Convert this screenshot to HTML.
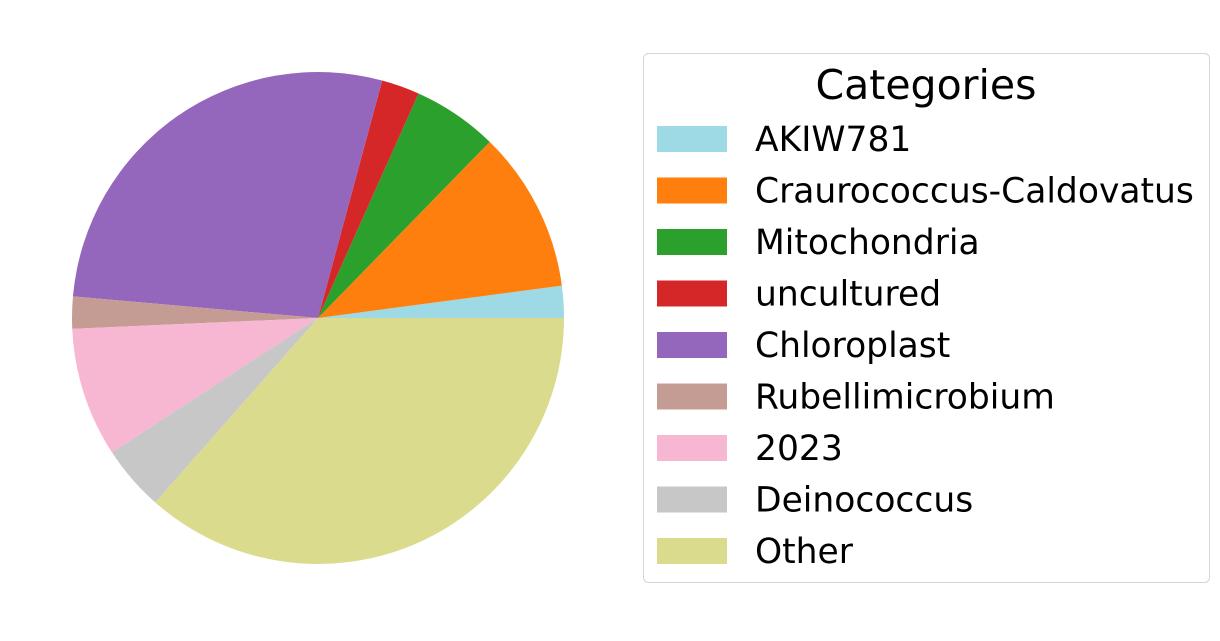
<!DOCTYPE html>
<html><head><meta charset="utf-8"><style>
body{margin:0;background:#fff;width:1220px;height:636px;overflow:hidden;font-family:"Liberation Sans","DejaVu Sans",sans-serif}
</style></head><body>
<svg id="chart" width="1220" height="636">
<g id="pie"></g>
<g id="legend">
<rect x="643.5" y="53.5" width="566" height="529" rx="5" fill="#fff" stroke="#d6d6d6"/>
<text x="926" y="99" font-size="41" text-anchor="middle" fill="#000" font-family="DejaVu Sans, sans-serif">Categories</text>
</g>
</svg>
<script>
const labels=["AKIW781","Craurococcus-Caldovatus","Mitochondria","uncultured","Chloroplast","Rubellimicrobium","2023","Deinococcus","Other"];
const values=[2.1,10.6,5.6,2.5,27.8,2.1,8.5,4.3,36.5];
const colors=["#9edae5","#ff7f0e","#2ca02c","#d62728","#9467bd","#c49c94","#f7b6d2","#c7c7c7","#dbdb8d"];
const NS="http://www.w3.org/2000/svg";
const cx=318,cy=318,r=246;
const total=values.reduce((a,b)=>a+b,0);
let a0=0;
const pie=document.getElementById('pie');
values.forEach((v,i)=>{
  const a1=a0+v/total*2*Math.PI;
  const x0=cx+r*Math.cos(a0),y0=cy-r*Math.sin(a0),x1=cx+r*Math.cos(a1),y1=cy-r*Math.sin(a1);
  const large=(a1-a0)>Math.PI?1:0;
  const p=document.createElementNS(NS,'path');
  p.setAttribute('d',`M${cx},${cy}L${x0},${y0}A${r},${r} 0 ${large} 0 ${x1},${y1}Z`);
  p.setAttribute('fill',colors[i]);
  
  
  pie.appendChild(p);
  a0=a1;
});
const lg=document.getElementById('legend');
labels.forEach((l,i)=>{
  const y=139+i*51.5;
  const rc=document.createElementNS(NS,'rect');
  rc.setAttribute('x',657);rc.setAttribute('y',y-13);rc.setAttribute('width',70);rc.setAttribute('height',26);rc.setAttribute('fill',colors[i]);
  
  
  lg.appendChild(rc);
  const t=document.createElementNS(NS,'text');
  t.setAttribute('x',755);t.setAttribute('y',y+12);t.setAttribute('font-size',34.5);t.setAttribute('font-family','DejaVu Sans, sans-serif');
  t.textContent=l;
  
  
  lg.appendChild(t);
});
</script>
</body></html>
